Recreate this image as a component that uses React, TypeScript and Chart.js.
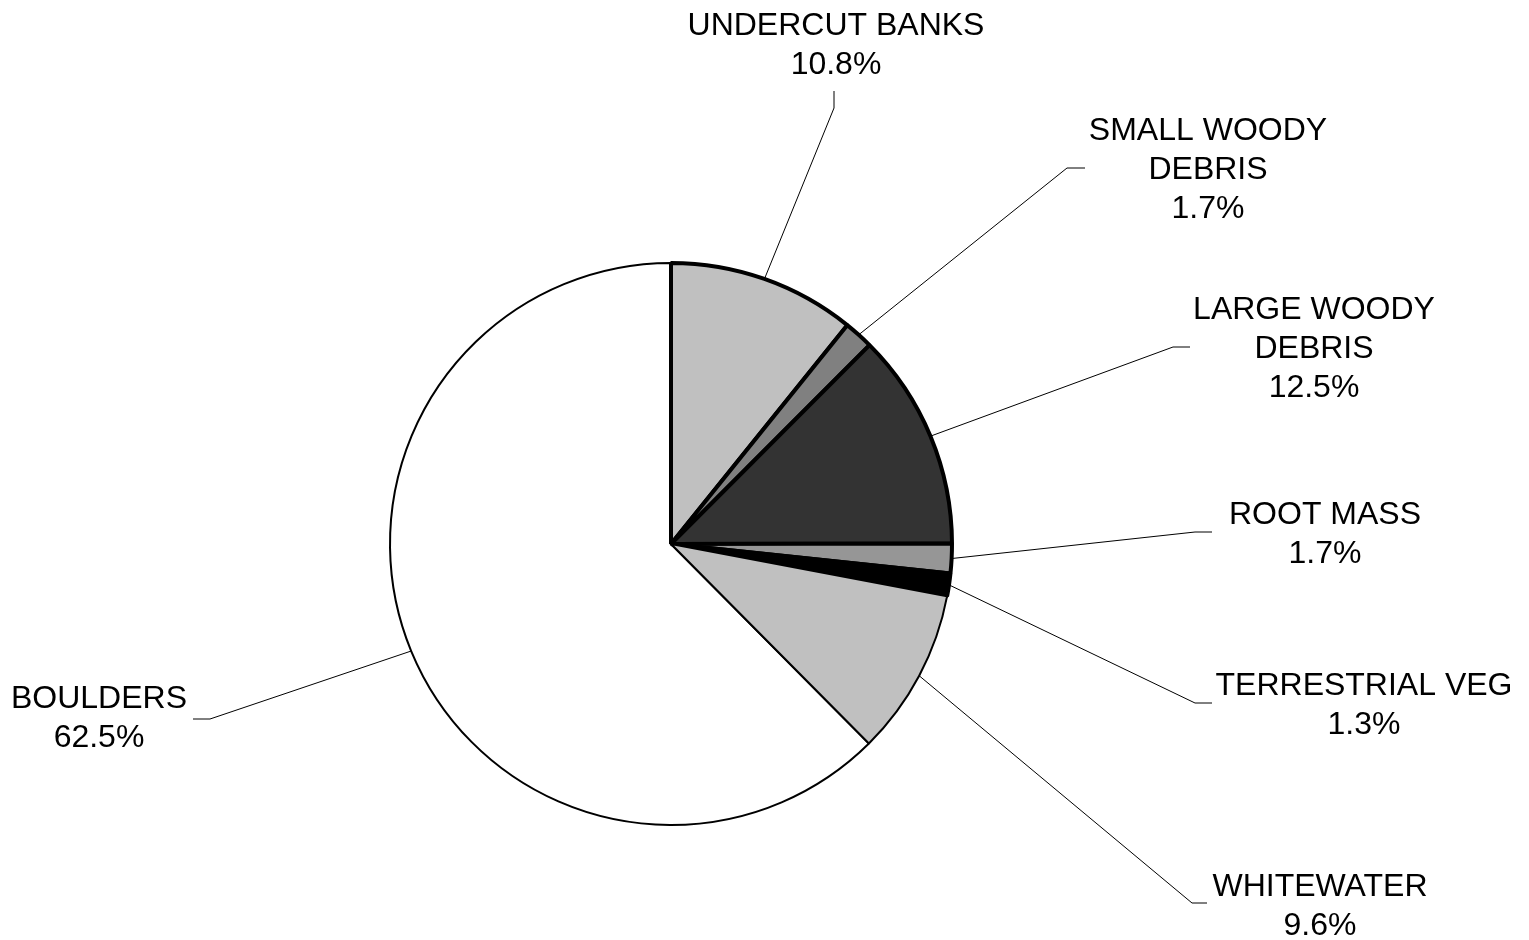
import React, { useEffect, useRef } from "react";
import { Chart, registerables } from "chart.js";

Chart.register(...registerables);

// Data (drawn clockwise starting with BOULDERS so its thin border is painted first)
const categories = [
  "BOULDERS",
  "UNDERCUT BANKS",
  "SMALL WOODY DEBRIS",
  "LARGE WOODY DEBRIS",
  "ROOT MASS",
  "TERRESTRIAL VEG",
  "WHITEWATER",
];
const labelLines = [
  ["BOULDERS"],
  ["UNDERCUT BANKS"],
  ["SMALL WOODY", "DEBRIS"],
  ["LARGE WOODY", "DEBRIS"],
  ["ROOT MASS"],
  ["TERRESTRIAL VEG"],
  ["WHITEWATER"],
];
const percentages = [62.5, 10.8, 1.7, 12.5, 1.7, 1.3, 9.6];
const percentLabels = ["62.5%", "10.8%", "1.7%", "12.5%", "1.7%", "1.3%", "9.6%"];

// Styles
const sliceColors = ["#ffffff", "#c0c0c0", "#808080", "#333333", "#969696", "#000000", "#c0c0c0"];
const sliceBorderWidths = [2, 4, 4, 4, 4, 4, 2];

// Label layout (text block centre, leader elbow and leader end)
const labelLayout = [
  { cx: 99, cy: 716, elbow: [210, 719], end: [193, 719] },
  { cx: 836, cy: 43, elbow: [834, 108], end: [834, 91] },
  { cx: 1208, cy: 168, elbow: [1067, 168], end: [1085, 168] },
  { cx: 1314, cy: 347, elbow: [1173, 347], end: [1190, 347] },
  { cx: 1325, cy: 532, elbow: [1195, 532], end: [1212, 532] },
  { cx: 1364, cy: 703, elbow: [1195, 703], end: [1212, 703] },
  { cx: 1320, cy: 904, elbow: [1192, 903], end: [1207, 903] },
];

const FONT_SIZE = 32;
const LINE_HEIGHT = 39;

const leaderLabelPlugin = {
  id: "leaderLabels",
  afterDatasetsDraw(chart: any) {
    const ctx = chart.ctx as CanvasRenderingContext2D;
    const meta = chart.getDatasetMeta(0);
    ctx.save();
    meta.data.forEach((arc: any, i: number) => {
      const { x, y, startAngle, endAngle, outerRadius } = arc.getProps(
        ["x", "y", "startAngle", "endAngle", "outerRadius"],
        true
      );
      const mid = (startAngle + endAngle) / 2;
      const px = x + Math.cos(mid) * outerRadius;
      const py = y + Math.sin(mid) * outerRadius;
      const lay = labelLayout[i];
      ctx.beginPath();
      ctx.strokeStyle = "#000000";
      ctx.lineWidth = 1;
      ctx.moveTo(px, py);
      ctx.lineTo(lay.elbow[0], lay.elbow[1]);
      ctx.lineTo(lay.end[0], lay.end[1]);
      ctx.stroke();

      const lines = [...labelLines[i], percentLabels[i]];
      ctx.fillStyle = "#000000";
      ctx.font = `${FONT_SIZE}px "Liberation Sans", Arial, sans-serif`;
      ctx.textAlign = "center";
      ctx.textBaseline = "alphabetic";
      const firstY = lay.cy - ((lines.length - 1) * LINE_HEIGHT) / 2;
      lines.forEach((t, k) => {
        ctx.fillText(t, lay.cx, firstY + k * LINE_HEIGHT + FONT_SIZE * 0.358);
      });
    });
    ctx.restore();
  },
};

export default function App() {
  const canvasRef = useRef<HTMLCanvasElement | null>(null);

  useEffect(() => {
    document.body.style.margin = "0";
    const canvas = canvasRef.current;
    if (!canvas) return;
    const total = percentages.reduce((a, b) => a + b, 0);
    const rotation = ((total - percentages[0]) / total) * 360;
    const chart = new Chart(canvas, {
      type: "pie",
      data: {
        labels: categories,
        datasets: [
          {
            data: percentages,
            backgroundColor: sliceColors,
            borderColor: "#000000",
            borderWidth: sliceBorderWidths,
            borderJoinStyle: "bevel",
          } as any,
        ],
      },
      options: {
        responsive: false,
        animation: false,
        devicePixelRatio: 1,
        rotation,
        radius: 281,
        layout: { padding: { left: 100, right: 287, top: 200, bottom: 52 } },
        plugins: {
          legend: { display: false },
          tooltip: { enabled: false },
        },
      } as any,
      plugins: [leaderLabelPlugin],
    });
    return () => chart.destroy();
  }, []);

  return (
    <div style={{ width: 1529, height: 940, background: "#ffffff" }}>
      <canvas ref={canvasRef} width={1529} height={940} style={{ display: "block" }} />
    </div>
  );
}
